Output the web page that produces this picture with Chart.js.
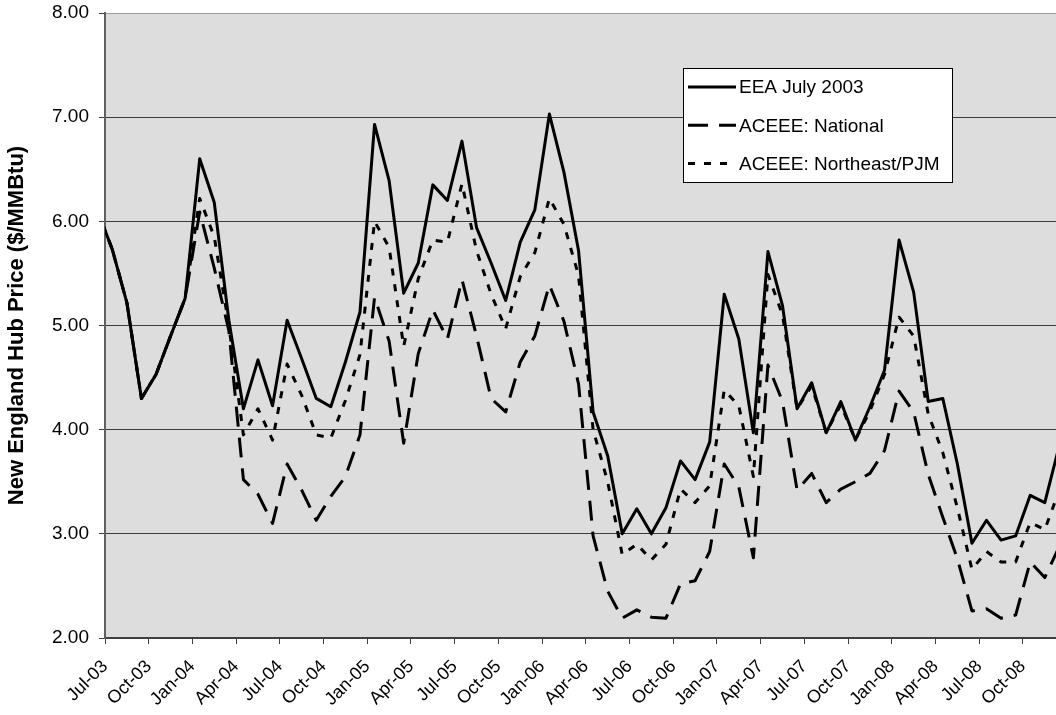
<!DOCTYPE html>
<html>
<head>
<meta charset="utf-8">
<script src="https://cdn.jsdelivr.net/npm/chart.js@4.4.1/dist/chart.umd.min.js"></script>
<style>
  html, body { margin: 0; padding: 0; background: #ffffff; overflow: hidden; }
  #wrap { width: 1056px; height: 715px; }
</style>
</head>
<body>
<div id="wrap"><canvas id="c" width="1056" height="715"></canvas></div>
<script>
// Monthly data, Jun-03 .. Dec-08 (Jun-03 lies just left of the axis and is clipped)
const months = ["Jun-03","Jul-03","Aug-03","Sep-03","Oct-03","Nov-03","Dec-03",
  "Jan-04","Feb-04","Mar-04","Apr-04","May-04","Jun-04","Jul-04","Aug-04","Sep-04","Oct-04","Nov-04","Dec-04",
  "Jan-05","Feb-05","Mar-05","Apr-05","May-05","Jun-05","Jul-05","Aug-05","Sep-05","Oct-05","Nov-05","Dec-05",
  "Jan-06","Feb-06","Mar-06","Apr-06","May-06","Jun-06","Jul-06","Aug-06","Sep-06","Oct-06","Nov-06","Dec-06",
  "Jan-07","Feb-07","Mar-07","Apr-07","May-07","Jun-07","Jul-07","Aug-07","Sep-07","Oct-07","Nov-07","Dec-07",
  "Jan-08","Feb-08","Mar-08","Apr-08","May-08","Jun-08","Jul-08","Aug-08","Sep-08","Oct-08","Nov-08","Dec-08"];

const eeaJuly2003 = [6.10,
  5.73,5.22,4.30,4.53,4.90,5.26,
  6.60,6.18,5.05,4.20,4.67,4.23,5.05,4.68,4.30,4.22,4.65,5.13,
  6.93,6.39,5.31,5.60,6.35,6.20,6.77,5.94,5.60,5.24,5.80,6.11,
  7.03,6.47,5.72,4.17,3.75,3.00,3.24,3.00,3.25,3.70,3.52,3.88,
  5.30,4.87,3.97,5.71,5.19,4.20,4.45,3.97,4.27,3.90,4.22,4.57,
  5.82,5.32,4.27,4.30,3.67,2.91,3.13,2.94,2.98,3.37,3.30,3.85];

const aceeeNational = [6.10,
  5.73,5.22,4.30,4.53,4.90,5.26,
  6.09,5.55,4.95,3.52,3.38,3.10,3.67,3.42,3.13,3.36,3.55,3.95,
  5.27,4.85,3.87,4.73,5.15,4.87,5.44,4.90,4.30,4.17,4.65,4.90,
  5.39,5.04,4.44,2.98,2.45,2.19,2.27,2.20,2.19,2.52,2.55,2.83,
  3.67,3.45,2.77,4.62,4.27,3.42,3.58,3.30,3.43,3.50,3.58,3.80,
  4.37,4.17,3.57,3.16,2.76,2.26,2.28,2.19,2.22,2.73,2.58,2.88];

const aceeeNortheastPJM = [6.10,
  5.73,5.22,4.30,4.53,4.90,5.26,
  6.22,5.85,5.00,3.95,4.20,3.90,4.63,4.33,3.95,3.92,4.28,4.72,
  6.00,5.75,4.80,5.45,5.82,5.80,6.36,5.72,5.30,4.97,5.47,5.70,
  6.22,5.97,5.48,4.00,3.50,2.80,2.90,2.75,2.90,3.43,3.30,3.46,
  4.38,4.23,3.55,5.49,5.10,4.20,4.42,3.97,4.24,3.90,4.18,4.53,
  5.08,4.90,4.15,3.78,3.25,2.66,2.83,2.73,2.73,3.11,3.04,3.42];

const tickLabels = ["Jul-03","Oct-03","Jan-04","Apr-04","Jul-04","Oct-04","Jan-05","Apr-05",
  "Jul-05","Oct-05","Jan-06","Apr-06","Jul-06","Oct-06","Jan-07","Apr-07","Jul-07","Oct-07",
  "Jan-08","Apr-08","Jul-08","Oct-08"];

const seriesNames = ["EEA July 2003", "ACEEE: National", "ACEEE: Northeast/PJM"];

// x value of each month = months since start of Jul-03, at mid-month
const toPoints = arr => arr.map((v, i) => ({ x: i - 1 + 0.5, y: v }));
const FONT = "'Liberation Sans', Arial, sans-serif";

const plotBg = {
  id: 'plotBg',
  beforeDraw(chart) {
    const { ctx, chartArea: a } = chart;
    ctx.save();
    ctx.fillStyle = '#dddddd';
    ctx.fillRect(a.left, a.top, a.right - a.left, a.bottom - a.top);
    ctx.restore();
  }
};

const boxLegend = {
  id: 'boxLegend',
  afterDatasetsDraw(chart) {
    const ctx = chart.ctx;
    const x0 = 683, y0 = 68, w = 269, h = 114;
    ctx.save();
    ctx.fillStyle = '#ffffff';
    ctx.fillRect(x0, y0, w, h);
    ctx.strokeStyle = '#000000';
    ctx.lineWidth = 1;
    ctx.strokeRect(x0 + 0.5, y0 + 0.5, w, h);
    chart.data.datasets.forEach((ds, i) => {
      const y = 87 + i * 38.3;
      ctx.beginPath();
      ctx.setLineDash(ds.borderDash || []);
      ctx.lineWidth = ds.borderWidth;
      ctx.strokeStyle = ds.borderColor;
      ctx.moveTo(688, y);
      ctx.lineTo(736, y);
      ctx.stroke();
      ctx.setLineDash([]);
      ctx.fillStyle = '#000000';
      ctx.font = "19px " + FONT;
      ctx.textBaseline = 'middle';
      ctx.textAlign = 'left';
      ctx.fillText(ds.label, 739, y + 1);
    });
    ctx.restore();
  }
};

new Chart(document.getElementById('c'), {
  type: 'line',
  data: {
    datasets: [
      { label: seriesNames[0], data: toPoints(eeaJuly2003), borderColor: '#000000',
        borderWidth: 3, borderDash: [], pointRadius: 0, tension: 0, order: 3, clip: 0,
        borderJoinStyle: 'round' },
      { label: seriesNames[1], data: toPoints(aceeeNational), borderColor: '#000000',
        borderWidth: 3, borderDash: [20, 11], pointRadius: 0, tension: 0, order: 2, clip: 0,
        borderJoinStyle: 'round' },
      { label: seriesNames[2], data: toPoints(aceeeNortheastPJM), borderColor: '#000000',
        borderWidth: 3, borderDash: [7, 9], pointRadius: 0, tension: 0, order: 1, clip: 0,
        borderJoinStyle: 'round' }
    ]
  },
  options: {
    responsive: false,
    animation: false,
    events: [],
    layout: { padding: { top: 13, right: 0, left: 0, bottom: 0 } },
    plugins: { legend: { display: false }, tooltip: { enabled: false } },
    scales: {
      x: {
        type: 'linear',
        min: 0,
        max: 65.27,
        afterBuildTicks: axis => { axis.ticks = tickLabels.map((_, i) => ({ value: i * 3 })); },
        afterFit: scale => { scale.height = 77; },
        ticks: {
          autoSkip: false,
          maxRotation: 45,
          minRotation: 45,
          padding: 12,
          color: '#000000',
          font: { family: FONT, size: 18 },
          callback: v => tickLabels[Math.round(v / 3)]
        },
        grid: { drawOnChartArea: false, drawTicks: true, tickLength: 6, tickColor: '#404040', lineWidth: 1 },
        border: { display: true, color: '#404040', width: 2 }
      },
      y: {
        min: 2,
        max: 8,
        afterFit: scale => { scale.width = 105; scale.paddingTop = 0; scale.paddingBottom = 0; },
        ticks: {
          stepSize: 1,
          padding: 10,
          color: '#000000',
          font: { family: FONT, size: 19 },
          callback: v => Number(v).toFixed(2)
        },
        grid: {
          color: ctx => (ctx.tick && ctx.tick.value === 8 ? '#9a9a9a' : '#3a3a3a'),
          lineWidth: 1,
          tickLength: 6,
          tickColor: '#404040'
        },
        border: { display: true, color: '#606060', width: 2 },
        title: {
          display: true,
          text: 'New England Hub Price ($/MMBtu)',
          color: '#000000',
          font: { family: FONT, size: 22, weight: 'bold' },
          padding: { top: 4, bottom: 0 }
        }
      }
    }
  },
  plugins: [plotBg, boxLegend]
});
</script>
</body>
</html>
